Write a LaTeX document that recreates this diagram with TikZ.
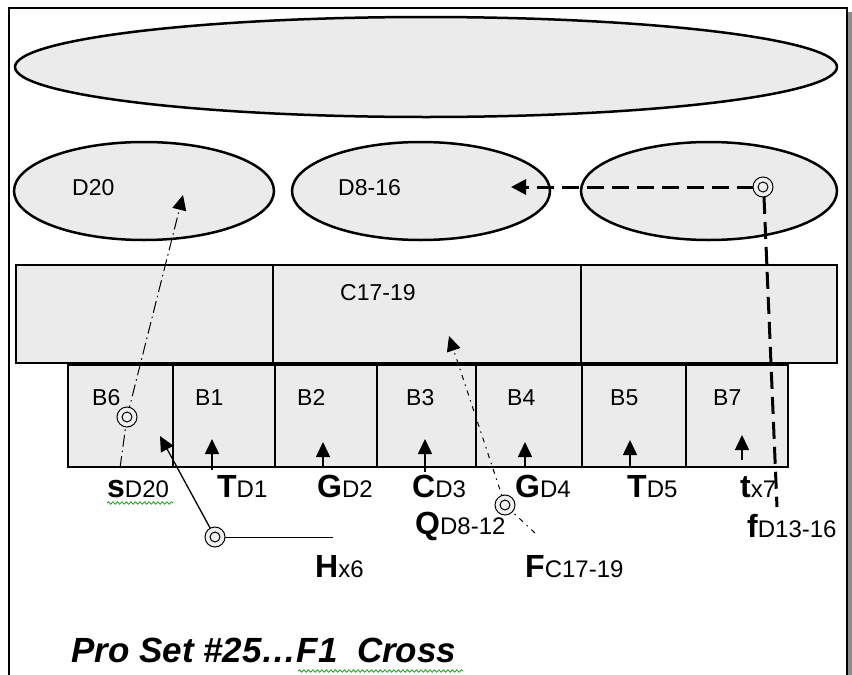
\documentclass[tikz,border=0pt]{standalone}
\usepackage{fontspec}
\setmainfont{Liberation Sans}
\usetikzlibrary{arrows.meta,decorations.pathmorphing}

% player call: bold letter followed by its assignment
\newcommand{\callsign}[2]{{\fontsize{32}{32}\selectfont\bfseries #1}{\fontsize{24}{24}\selectfont #2}}

\tikzset{
  zone/.style={draw,fill=black!8,line width=2.5pt},
  tag/.style={anchor=base west,inner sep=0pt,font=\fontsize{23}{23}\selectfont},
  call/.style={anchor=base west,inner sep=0pt},
  head/.style={-{Triangle[length=15pt,width=14pt]}},
  lift/.style={line width=1.5pt,head},
  read/.style={line width=1pt,dash pattern=on 12pt off 4pt on 1.5pt off 4pt},
  run/.style={line width=3pt,dash pattern=on 17pt off 8pt},
  ring/.style={fill=black!6,line width=1pt},
  squiggle/.style={green!60!black,line width=0.7pt,decorate,
    decoration={snake,amplitude=1.3pt,segment length=4.5pt}}
}

\begin{document}
\begin{tikzpicture}[x=1pt,y=-1pt]
   \useasboundingbox (0,0) rectangle (852,675);
   % page frame and shadow
   \fill [black!45] (847,12) rectangle (852,675);
   \draw [line width=1.2pt] (9,675) -- (9,8) -- (847,8) -- (847,675);
   % deep, second and first levels
   \filldraw [zone] (426,67) ellipse (411 and 50);
   \filldraw [zone] (144,191) ellipse (130 and 49);
   \filldraw [zone] (421,191) ellipse (129 and 49);
   \filldraw [zone] (709,191) ellipse (128 and 49);
   \filldraw [zone] (16,265) rectangle (273,363);
   \filldraw [zone] (273,265) rectangle (581,363);
   \filldraw [zone] (581,265) rectangle (837,363);
   \foreach \a/\b in {68/173,173/275,275/377,377/476,476/582,582/686,686/788}
     \filldraw [zone] (\a,365) rectangle (\b,467);
   \node [tag] (d20) at (72,195) {D20};
   \node [tag] (d816) at (338,195) {D8-16};
   \node [tag] (c1719) at (340,300) {C17-19};
   \foreach \x/\n in {92/B6,195/B1,297/B2,406/B3,507/B4,610/B5,713/B7}
     \node [tag] (\n) at (\x,405) {\n};
   % short drops
   \foreach \x/\y/\t in {212/470/439,323/467/442,425/472/439,525/467/442,630/468/440,742/460/435}
     \draw [lift] (\x,\y) -- (\x,\t);
   % s read to D20
   \coordinate (sfoot) at (120,468);
   \coordinate (spin) at (127,417);
   \coordinate (stip) at (183,195);
   \draw [read] (sfoot) -- (spin);
   \draw [read,head] (spin) -- (stip);
   % F read to C17-19
   \coordinate (ffoot) at (535,533);
   \coordinate (fpin) at (505,505);
   \coordinate (ftip) at (449,336);
   \draw [read,dash pattern=on 5pt off 5pt on 1.5pt off 5pt] (ffoot) -- (fpin);
   \draw [read,dash pattern=on 5pt off 5pt on 1.5pt off 5pt,head] (fpin) -- (ftip);
   % H
   \coordinate (hpin) at (215,537);
   \coordinate (hend) at (333,537);
   \coordinate (htip) at (160,436);
   \draw [line width=1pt] (hpin) -- (hend);
   \draw [line width=1.3pt,head] (hpin) -- (htip);
   % f route
   \coordinate (tpin) at (763,187);
   \coordinate (ttip) at (511,187);
   \coordinate (tfoot) at (777,507);
   \draw [run,-{Triangle[length=15pt,width=15pt]}] (754,187) -- (ttip);
   \draw [run] (764,197) -- (tfoot);
   % pins
   \foreach \p in {spin,fpin,hpin,tpin} {
     \filldraw [ring] (\p) circle (10);
     \draw [line width=1pt] (\p) circle (5);
   }
   % calls
   \node [call] (s) at (107,497) {\callsign{s}{D20}};
   \node [call] (t1) at (217,497) {\callsign{T}{D1}};
   \node [call] (g2) at (317,497) {\callsign{G}{D2}};
   \node [call] (c3) at (412,497) {\callsign{C}{D3}};
   \node [call] (g4) at (515,497) {\callsign{G}{D4}};
   \node [call] (t5) at (627,497) {\callsign{T}{D5}};
   \node [call] (t7) at (740,497) {\callsign{t}{x7}};
   \node [call] (q) at (415,534) {\callsign{Q}{D8-12}};
   \node [call] (f) at (747,537) {\callsign{f}{D13-16}};
   \node [call] (h) at (315,577) {\callsign{H}{x6}};
   \node [call] (fc) at (525,577) {\callsign{F}{C17-19}};
   \node [anchor=base west,inner sep=0pt,font=\fontsize{35}{35}\selectfont\bfseries\itshape]
     (title) at (71,662) {Pro Set \#25\ldots F1\ \ Cross};
   \draw [squiggle] (107,503) -- (173,503);
   \draw [squiggle] (298,671) -- (463,671);
\end{tikzpicture}
\end{document}
